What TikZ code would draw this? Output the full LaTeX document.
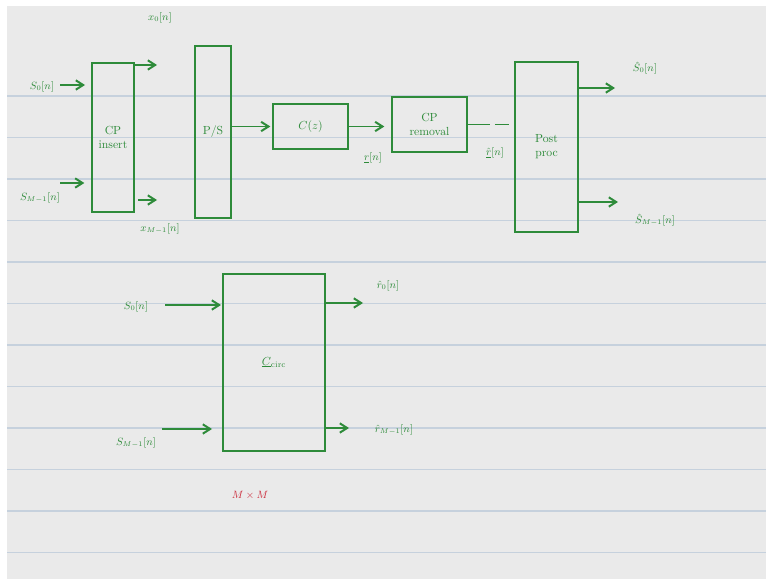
\documentclass[tikz,border=0pt]{standalone}
\usetikzlibrary{arrows.meta,calc,positioning}
\definecolor{inkgreen}{HTML}{2E8B3A}
\definecolor{inkred}{HTML}{CC2B3B}
\definecolor{paper}{HTML}{EAEAEA}
\definecolor{ruleblue}{HTML}{C6D1DD}

\begin{document}
\begin{tikzpicture}[x=0.3cm,y=-0.3cm,font=\small,
  blk/.style={draw=inkgreen,line width=1.7pt,inner sep=0pt,text=inkgreen,align=center,font=\normalsize},
  lbl/.style={text=inkgreen,inner sep=1pt},
  sig/.style={draw=inkgreen,line width=1.7pt,-{Straight Barb[length=2.2mm,width=2.8mm]}},
  wire/.style={draw=inkgreen,line width=1.7pt}]
\useasboundingbox (0,0) rectangle (76.6,57.9);
% paper and ruled lines
\fill[white] (0,0) rectangle (76.6,57.9);
\fill[paper] (0.7,0.6) rectangle (76.6,57.9);
\foreach \k in {0,...,11}
  \draw[ruleblue,line width=1pt] (0.7,9.6+4.15*\k) -- (76.6,9.6+4.15*\k);
% upper chain
\node[blk,minimum width=1.26cm,minimum height=4.47cm] (cpins) at (11.3,13.75) {CP\\insert};
\node[blk,minimum width=1.08cm,minimum height=5.16cm] (ps) at (21.3,13.2) {P/S};
\node[blk,minimum width=2.25cm,minimum height=1.35cm] (cz) at (31.05,12.65) {$C(z)$};
\node[blk,minimum width=2.25cm,minimum height=1.65cm] (cprem) at (42.95,12.45) {CP\\removal};
\node[blk,minimum width=1.89cm,minimum height=5.1cm] (post) at (54.65,14.7) {Post\\proc};
\node[lbl] (s0in) at (4.2,8.7) {$S_0[n]$};
\node[lbl] (sm1in) at (4.0,19.8) {$S_{M-1}[n]$};
\node[lbl] (x0) at (16,1.8) {$x_0[n]$};
\node[lbl] (xm1) at (16,22.9) {$x_{M-1}[n]$};
\node[lbl] (rn) at (37.3,15.8) {$\underline{r}[n]$};
\node[lbl] (rhat) at (49.5,15.3) {$\hat{\underline{r}}[n]$};
\node[lbl] (shat0) at (64.5,6.8) {$\hat{S}_0[n]$};
\node[lbl] (shatm1) at (65.5,22) {$\hat{S}_{M-1}[n]$};
\coordinate (s0a) at (6,8.5);
\coordinate (sm1a) at (6,18.3);
\coordinate (x0a) at (15.7,6.5);
\coordinate (xm1a) at (15.7,20);
\coordinate (sh0a) at (61.5,8.8);
\coordinate (shm1a) at (61.8,20.2);
\draw[sig,shorten >=1.8mm] (s0a) -- (s0a -| cpins.west);
\draw[sig,shorten >=2mm] (sm1a) -- (sm1a -| cpins.west);
\draw[sig] (cpins.east |- x0a) -- (x0a);
\draw[sig,shorten <=1mm] (cpins.east |- xm1a) -- (xm1a);
\draw[sig,shorten >=0.5mm] (ps.east |- cz.west) -- (cz.west);
\draw[sig,shorten >=2mm] (cz.east) -- (cz.east -| cprem.west);
\draw[wire,shorten >=1.5mm,dash pattern=on 6.6mm off 1.5mm on 8mm] (cprem.east) -- (cprem.east -| post.west);
\draw[sig] (post.east |- sh0a) -- (sh0a);
\draw[sig] (post.east |- shm1a) -- (shm1a);
% circulant block
\node[blk,minimum width=3.06cm,minimum height=5.31cm] (ccirc) at (27.4,36.25) {$\underline{C}_{\mathrm{circ}}$};
\node[lbl] (s0b) at (13.6,30.7) {$S_0[n]$};
\node[lbl] (sm1b) at (13.6,44.3) {$S_{M-1}[n]$};
\node[lbl] (rh0) at (38.8,28.6) {$\hat{r}_0[n]$};
\node[lbl] (rhm1) at (39.4,43) {$\hat{r}_{M-1}[n]$};
\node[text=inkred] (mxm) at (25,49.5) {$M\times M$};
\coordinate (s0ba) at (16.5,30.5);
\coordinate (sm1ba) at (16.2,42.9);
\coordinate (rh0a) at (36.3,30.3);
\coordinate (rhm1a) at (34.9,42.8);
\draw[sig,shorten >=0.3mm] (s0ba) -- (s0ba -| ccirc.west);
\draw[sig,shorten >=3mm] (sm1ba) -- (sm1ba -| ccirc.west);
\draw[sig] (ccirc.east |- rh0a) -- (rh0a);
\draw[sig] (ccirc.east |- rhm1a) -- (rhm1a);
\end{tikzpicture}
\end{document}
